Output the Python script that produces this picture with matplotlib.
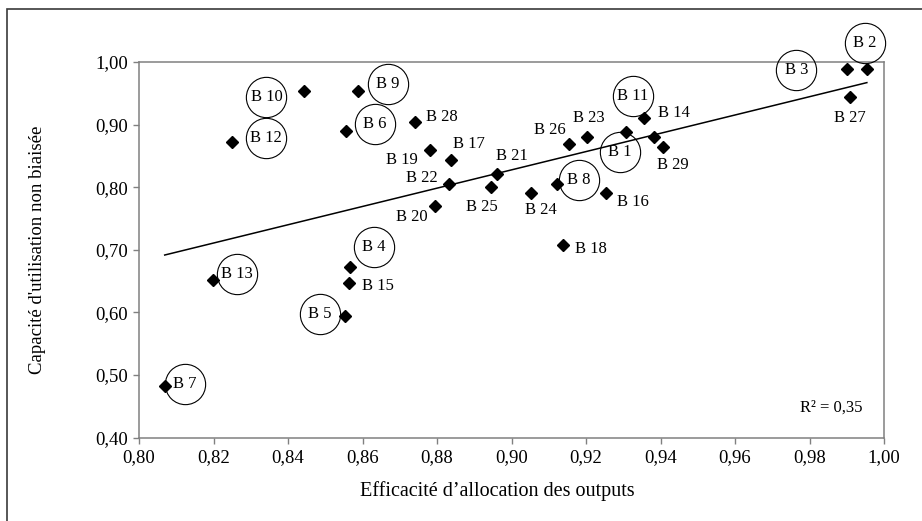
import numpy as np
import matplotlib
matplotlib.use("Agg")
import matplotlib.pyplot as plt
import matplotlib.transforms as mtransforms
from matplotlib.patches import Rectangle

plt.rcParams['font.family'] = ['Liberation Serif', 'DejaVu Serif']

# ---- data ----
names = ["B 1", "B 2", "B 3", "B 4", "B 5", "B 6", "B 7", "B 8", "B 9", "B 10",
         "B 11", "B 12", "B 13", "B 14", "B 15", "B 16", "B 17", "B 18", "B 19", "B 20",
         "B 21", "B 22", "B 23", "B 24", "B 25", "B 26", "B 27", "B 28", "B 29"]
alloc_eff = [0.9307, 0.9954, 0.9902, 0.8567, 0.8552, 0.8555, 0.8069, 0.9121, 0.8588, 0.8444,
             0.9356, 0.8250, 0.8199, 0.9383, 0.8565, 0.9253, 0.8838, 0.9137, 0.8781, 0.8795,
             0.8962, 0.8833, 0.9202, 0.9052, 0.8944, 0.9155, 0.9909, 0.8742, 0.9408]
capacity = [0.8879, 0.9890, 0.9890, 0.6727, 0.5944, 0.8899, 0.4831, 0.8058, 0.9543, 0.9538,
            0.9102, 0.8728, 0.6519, 0.8808, 0.6466, 0.7904, 0.8436, 0.7073, 0.8591, 0.7701,
            0.8212, 0.8048, 0.8803, 0.7904, 0.8000, 0.8687, 0.9447, 0.9048, 0.8644]
circled = ["B 1", "B 2", "B 3", "B 4", "B 5", "B 6", "B 7", "B 8", "B 9", "B 10",
           "B 11", "B 12", "B 13"]
x_ticks = [0.80, 0.82, 0.84, 0.86, 0.88, 0.90, 0.92, 0.94, 0.96, 0.98, 1.00]
y_ticks = [0.40, 0.50, 0.60, 0.70, 0.80, 0.90, 1.00]
r2_text = "R² = 0,35"
x_title = "Efficacité d’allocation des outputs"
y_title = "Capacité d'utilisation non biaisée"

# label offsets (pixels, dx right, dy up) -- layout only
label_offsets = {
    "B 1": (-6, -20), "B 2": (-2, 26), "B 3": (-51, -1), "B 4": (24, 20),
    "B 5": (-25, 2), "B 6": (29, 7), "B 7": (20, 2), "B 8": (22, 4),
    "B 9": (30, 7), "B 10": (-38, -6), "B 11": (-11, 22), "B 12": (34, 4),
    "B 13": (24, 6), "B 14": (20, 24), "B 15": (28, -3), "B 16": (27, -9),
    "B 17": (18, 16), "B 18": (28, -4), "B 19": (-28, -10), "B 20": (-23, -11),
    "B 21": (15, 18), "B 22": (-27, 6), "B 23": (2, 19), "B 24": (10, -17),
    "B 25": (-9, -20), "B 26": (-19, 14), "B 27": (0, -21), "B 28": (26, 5),
    "B 29": (9, -18),
}

W, H = 922, 521
fig = plt.figure(figsize=(W / 100, H / 100), dpi=100)
ax = fig.add_axes([139 / W, (H - 437.7) / H, (884 - 139) / W, (437.7 - 62) / H])

# outer frame
fig.patches.append(Rectangle((7 / W, -0.1), 1.2, 1 - 9 / H + 0.1, transform=fig.transFigure,
                             fill=False, edgecolor='#3a3a3a', linewidth=1.2, zorder=0))

x = np.array(alloc_eff)
y = np.array(capacity)

# trend line
slope, intercept = np.polyfit(x, y, 1)
xl = np.array([x.min(), x.max()])
ax.plot(xl, slope * xl + intercept, color='black', linewidth=1.1, zorder=2)

ax.plot(x, y, linestyle='none', marker='D', markersize=6.2, color='black', zorder=3)

for nm, xi, yi in zip(names, x, y):
    dx, dy = label_offsets[nm]
    ax.annotate(nm, (xi, yi), xytext=(dx, dy), textcoords='offset pixels',
                ha='center', va='center', fontsize=12, zorder=4)
    if nm in circled:
        tr = mtransforms.offset_copy(ax.transData, fig=fig, x=dx, y=dy, units='dots')
        ax.plot([xi], [yi], marker='o', markersize=29, markerfacecolor='none',
                markeredgecolor='black', markeredgewidth=0.8, transform=tr,
                clip_on=False, zorder=4)

ax.text((862 - 139) / 745, 0.08, r2_text, transform=ax.transAxes, ha='right', va='center',
        fontsize=12)

ax.set_xlim(0.80, 1.00)
ax.set_ylim(0.40, 1.00)
ax.set_xticks(x_ticks)
ax.set_yticks(y_ticks)
ax.set_xticklabels([f"{v:.2f}".replace('.', ',') for v in x_ticks])
ax.set_yticklabels([f"{v:.2f}".replace('.', ',') for v in y_ticks])
ax.tick_params(direction='out', length=4, width=1, color='#808080', labelsize=13.5, pad=4)
for s in ax.spines.values():
    s.set_color('#808080')
    s.set_linewidth(1.1)

ax.set_xlabel(x_title, fontsize=14.5)
ax.xaxis.set_label_coords((497 - 139) / 745, -(491 - 437.7) / 375.7)
ax.xaxis.label.set_va('center')
ax.set_ylabel(y_title, fontsize=13.5)
ax.yaxis.set_label_coords(-(139 - 38) / 745, 0.5)
ax.yaxis.label.set_va('center')

fig.savefig("out.png", dpi=100)
